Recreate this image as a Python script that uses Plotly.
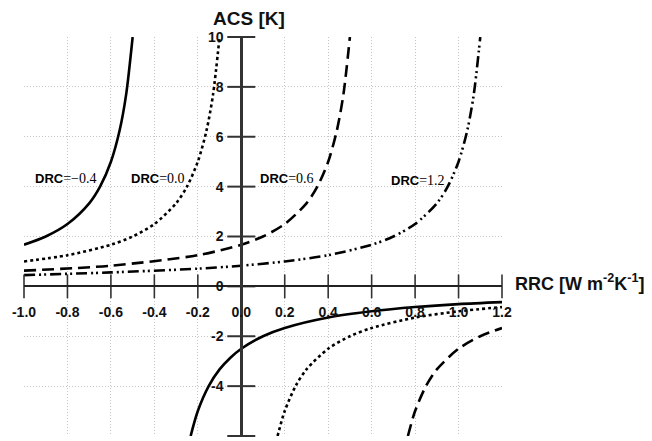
import plotly.graph_objects as go

# ---- data ----
# DRC = -0.4 (solid)
solid_up_x = [-1.0, -0.9, -0.8, -0.7, -0.65, -0.6, -0.56, -0.53, -0.5]
solid_up_y = [1.67, 2.0, 2.5, 3.33, 4.0, 5.0, 6.25, 7.69, 10.0]
solid_lo_x = [-0.233, -0.2, -0.15, -0.1, -0.05, 0.0, 0.1, 0.2, 0.4, 0.6, 0.8, 1.0, 1.2]
solid_lo_y = [-6.0, -5.0, -4.0, -3.33, -2.86, -2.5, -2.0, -1.67, -1.25, -1.0, -0.83, -0.71, -0.63]
# DRC = 0.0 (dotted)
dot_up_x = [-1.0, -0.8, -0.6, -0.5, -0.4, -0.3, -0.25, -0.2, -0.16, -0.13, -0.1]
dot_up_y = [1.0, 1.25, 1.67, 2.0, 2.5, 3.33, 4.0, 5.0, 6.25, 7.69, 10.0]
dot_lo_x = [0.167, 0.2, 0.25, 0.3, 0.4, 0.5, 0.6, 0.8, 1.0, 1.2]
dot_lo_y = [-6.0, -5.0, -4.0, -3.33, -2.5, -2.0, -1.67, -1.25, -1.0, -0.83]
# DRC = 0.6 (dashed)
dash_up_x = [-1.0, -0.6, -0.2, 0.0, 0.1, 0.2, 0.3, 0.35, 0.4, 0.44, 0.47, 0.5]
dash_up_y = [0.63, 0.83, 1.25, 1.67, 2.0, 2.5, 3.33, 4.0, 5.0, 6.25, 7.69, 10.0]
dash_lo_x = [0.767, 0.8, 0.85, 0.9, 1.0, 1.1, 1.2]
dash_lo_y = [-6.0, -5.0, -4.0, -3.33, -2.5, -2.0, -1.67]
# DRC = 1.2 (dash-dot-dot)
dd_x = [-1.0, -0.6, -0.2, 0.0, 0.2, 0.4, 0.6, 0.7, 0.8, 0.9, 0.95, 1.0, 1.04, 1.07, 1.1]
dd_y = [0.45, 0.56, 0.71, 0.83, 1.0, 1.25, 1.67, 2.0, 2.5, 3.33, 4.0, 5.0, 6.25, 7.69, 10.0]

labels = ["−0.4", "0.0", "0.6", "1.2"]
label_x = [-0.959, -0.517, 0.078, 0.678]
label_y = [4.32, 4.32, 4.32, 4.25]

x_ticks = [-1.0, -0.8, -0.6, -0.4, -0.2, 0.0, 0.2, 0.4, 0.6, 0.8, 1.0, 1.2]
x_ticktext = ["-1.0", "-0.8", "-0.6", "-0.4", "-0.2", "0.0", "0.2", "0.4", "0.6", "0.8", "1.0", "1.2"]
y_ticks = [-6, -4, -2, 0, 2, 4, 6, 8, 10]
y_ticktext = ["-6", "-4", "-2", "0", "2", "4", "6", "8", "10"]

fig = go.Figure()

def curve(x, y, dash, width=2.6):
    fig.add_trace(go.Scatter(x=x, y=y, mode="lines",
                             line=dict(color="black", width=width, dash=dash, shape="spline", smoothing=0.8),
                             showlegend=False, hoverinfo="skip"))

curve(solid_up_x, solid_up_y, "solid")
curve(solid_lo_x, solid_lo_y, "solid")
curve(dot_up_x, dot_up_y, "dot", 2.6)
curve(dot_lo_x, dot_lo_y, "dot", 2.6)
curve(dash_up_x, dash_up_y, "12px,6px")
curve(dash_lo_x, dash_lo_y, "12px,6px")
curve(dd_x, dd_y, "11px,4px,2px,3px,2px,4px")

# crossing tick marks on the axes
fig.add_trace(go.Scatter(x=[0] * len(y_ticks), y=y_ticks, mode="markers",
                         marker=dict(symbol="line-ew", size=20, line=dict(color="#333", width=2)),
                         showlegend=False, hoverinfo="skip", cliponaxis=False))
fig.add_trace(go.Scatter(x=x_ticks, y=[0] * len(x_ticks), mode="markers",
                         marker=dict(symbol="line-ns", size=17, line=dict(color="#333", width=1.6)),
                         showlegend=False, hoverinfo="skip", cliponaxis=False))

tickfont = dict(family="Liberation Sans", size=14, color="#111", weight="bold")

fig.update_xaxes(range=[-1.0, 1.2], tickvals=x_ticks, ticktext=x_ticktext,
                 showgrid=True, gridcolor="#c4c4c4", griddash="1px,2px", gridwidth=1,
                 zeroline=False, showline=True, linecolor="#222", linewidth=2,
                 anchor="free", position=6 / 16, ticks="outside", ticklen=13,
                 tickcolor="rgba(0,0,0,0)", tickfont=tickfont)
fig.update_yaxes(range=[-6, 10], tickvals=y_ticks, ticktext=y_ticktext,
                 showgrid=True, gridcolor="#c4c4c4", griddash="1px,2px", gridwidth=1,
                 zeroline=False, showline=True, linecolor="#333", linewidth=3,
                 anchor="free", position=1 / 2.2, ticks="outside", ticklen=14,
                 tickcolor="rgba(0,0,0,0)", tickfont=tickfont)

annots = []
for t, lx, ly in zip(labels, label_x, label_y):
    annots.append(dict(x=lx, y=ly, xref="x", yref="y", xanchor="left", yanchor="middle", showarrow=False,
                       text="<b>DRC</b><span style='font-family:Liberation Serif;font-size:14px'>=" + t + "</span>",
                       font=dict(family="Liberation Sans", size=13, color="black")))
annots.append(dict(x=0.035, y=1.047, xref="x", yref="paper", xanchor="center", yanchor="middle",
                   showarrow=False, text="<b>ACS [K]</b>",
                   font=dict(family="Liberation Sans", size=19, color="#111")))
annots.append(dict(x=1.023, y=0.15, xref="paper", yref="y", xanchor="left", yanchor="middle",
                   showarrow=False, text="<b>RRC [W m<sup>-2</sup>K<sup>-1</sup>]</b>",
                   font=dict(family="Liberation Sans", size=18, color="#111")))

fig.update_layout(width=652, height=441, margin=dict(l=24, r=150, t=37, b=5),
                  plot_bgcolor="white", paper_bgcolor="white", annotations=annots)

fig.write_html("out.html")
